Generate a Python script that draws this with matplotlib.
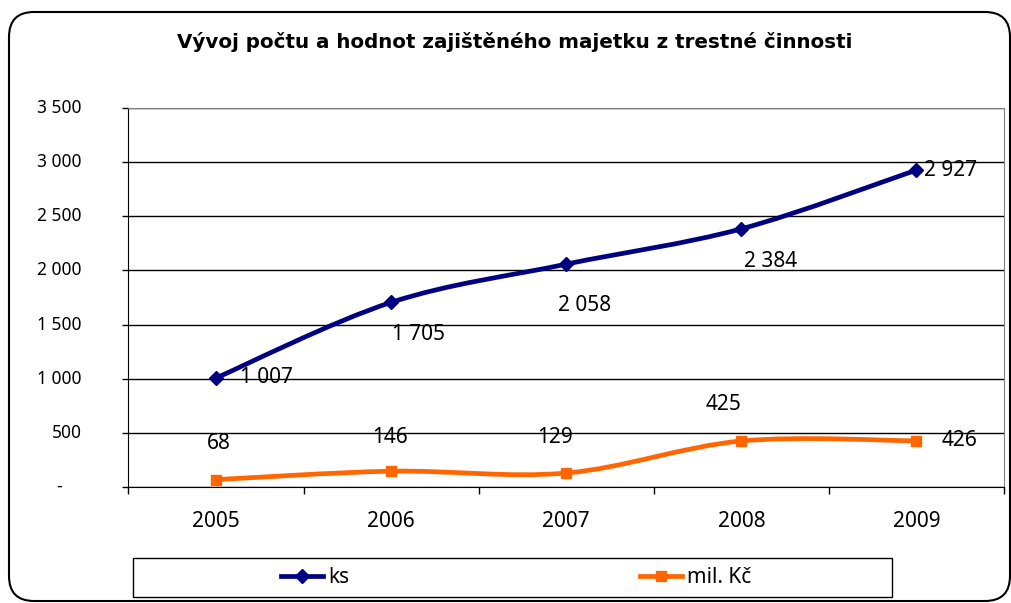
import matplotlib
matplotlib.use("Agg")
import matplotlib.pyplot as plt
import matplotlib.transforms as mtransforms
import numpy as np
from matplotlib.lines import Line2D
from matplotlib.patches import FancyBboxPatch, PathPatch, Rectangle
from matplotlib.path import Path

plt.rcParams["font.family"] = ["Noto Sans", "DejaVu Sans"]

years = ["2005", "2006", "2007", "2008", "2009"]
ks = [1007, 1705, 2058, 2384, 2927]
mil_kc = [68, 146, 129, 425, 426]
y_ticks = [0, 500, 1000, 1500, 2000, 2500, 3000, 3500]

title = "Vývoj počtu a hodnot zajištěného majetku z trestné činnosti"

NAVY = "#000080"
ORANGE = "#FF6600"

# label offsets in pixels (dx, dy) relative to each point, as placed in the original
ks_offsets = [(50, 0), (27, -32), (18, -41), (29, -33), (34, 0)]
mil_offsets = [(3, 36), (-1, 34), (-11, 36), (-18, 36), (43, 0)]


def fmt(v):
    return f"{v:,}".replace(",", " ") if v else "-"


def smooth_path(xs, ys):
    # Excel-like smoothed line: cubic bezier segments (Catmull-Rom)
    pts = np.column_stack([xs, ys]).astype(float)
    ext = np.vstack([pts[0], pts, pts[-1]])
    verts = [pts[0]]
    codes = [Path.MOVETO]
    for i in range(len(pts) - 1):
        p0, p1, p2, p3 = ext[i], ext[i + 1], ext[i + 2], ext[i + 3]
        verts += [p1 + (p2 - p0) / 6, p2 - (p3 - p1) / 6, p2]
        codes += [Path.CURVE4] * 3
    return Path(verts, codes)


W, H = 1012, 603
fig = plt.figure(figsize=(W / 100, H / 100), dpi=100)
ax = fig.add_axes([128.5 / W, 1 - 487 / H, 875.5 / W, 379 / H])

x = np.arange(len(years))
series = [
    (ks, NAVY, "D", 7.5, "ks", ks_offsets),
    (mil_kc, ORANGE, "s", 7, "mil. Kč", mil_offsets),
]
for vals, color, marker, ms, name, offs in series:
    ax.add_patch(PathPatch(smooth_path(x, vals), fill=False, edgecolor=color,
                           lw=3.4, capstyle="round", joinstyle="round", zorder=3))
    ax.plot(x, vals, linestyle="none", marker=marker, ms=ms, color=color, zorder=4)
    for xi, v, (dx, dy) in zip(x, vals, offs):
        ax.annotate(fmt(v), (xi, v), xytext=(dx, dy), textcoords="offset pixels",
                    ha="center", va="center", fontsize=15, color="black", zorder=5)

ax.set_xlim(-0.5, len(years) - 0.5)
ax.set_ylim(0, 3500)

ax.set_xticks(np.arange(-0.5, len(years), 1.0))
ax.set_xticklabels([])
ax.set_xticks(x, minor=True)
ax.set_xticklabels(years, minor=True, fontsize=15)
ax.tick_params(axis="x", which="major", length=5, width=1, direction="out", color="black")
ax.tick_params(axis="x", which="minor", length=0, pad=17)

ax.set_yticks(y_ticks)
ax.set_yticklabels([])
ax.tick_params(axis="y", length=4, width=1, direction="out", color="black")
ytrans = mtransforms.blended_transform_factory(ax.transAxes, ax.transData)
for v in y_ticks:
    if v:
        ax.text(-0.0535, v, fmt(v), transform=ytrans, ha="right", va="center", fontsize=12.5)
    else:
        ax.text(-0.0794, v, fmt(v), transform=ytrans, ha="center", va="center", fontsize=12.5)

ax.grid(axis="y", color="black", lw=1)
for side in ["left", "bottom"]:
    ax.spines[side].set_color("black")
for side in ["top", "right"]:
    ax.spines[side].set_color("#808080")

fig.text(515 / W, 1 - 48 / H, title, ha="center", va="baseline",
         fontsize=14.3, fontweight="bold", family="DejaVu Sans")

# legend box and entries
fig.patches.append(Rectangle((133 / W, 1 - 597 / H), 759 / W, 39 / H,
                             transform=fig.transFigure, fill=False,
                             edgecolor="black", lw=1))
for (vals, color, marker, ms, name, offs), lx in zip(series, [281, 640]):
    handle = Line2D([], [], color=color, lw=3.4, marker=marker, ms=ms)
    fig.legend([handle], [name], loc="center left", frameon=False, fontsize=15,
               bbox_to_anchor=(lx / W, 1 - 577.5 / H), borderpad=0,
               handlelength=2.0, handletextpad=0.25, borderaxespad=0)

# rounded outer border
fig.patches.append(FancyBboxPatch((9, 2), 1001, 589,
                                  boxstyle="round,pad=0,rounding_size=25",
                                  transform=mtransforms.IdentityTransform(),
                                  fill=False, edgecolor="black", lw=1.5))

fig.savefig("out.png", dpi=100)
